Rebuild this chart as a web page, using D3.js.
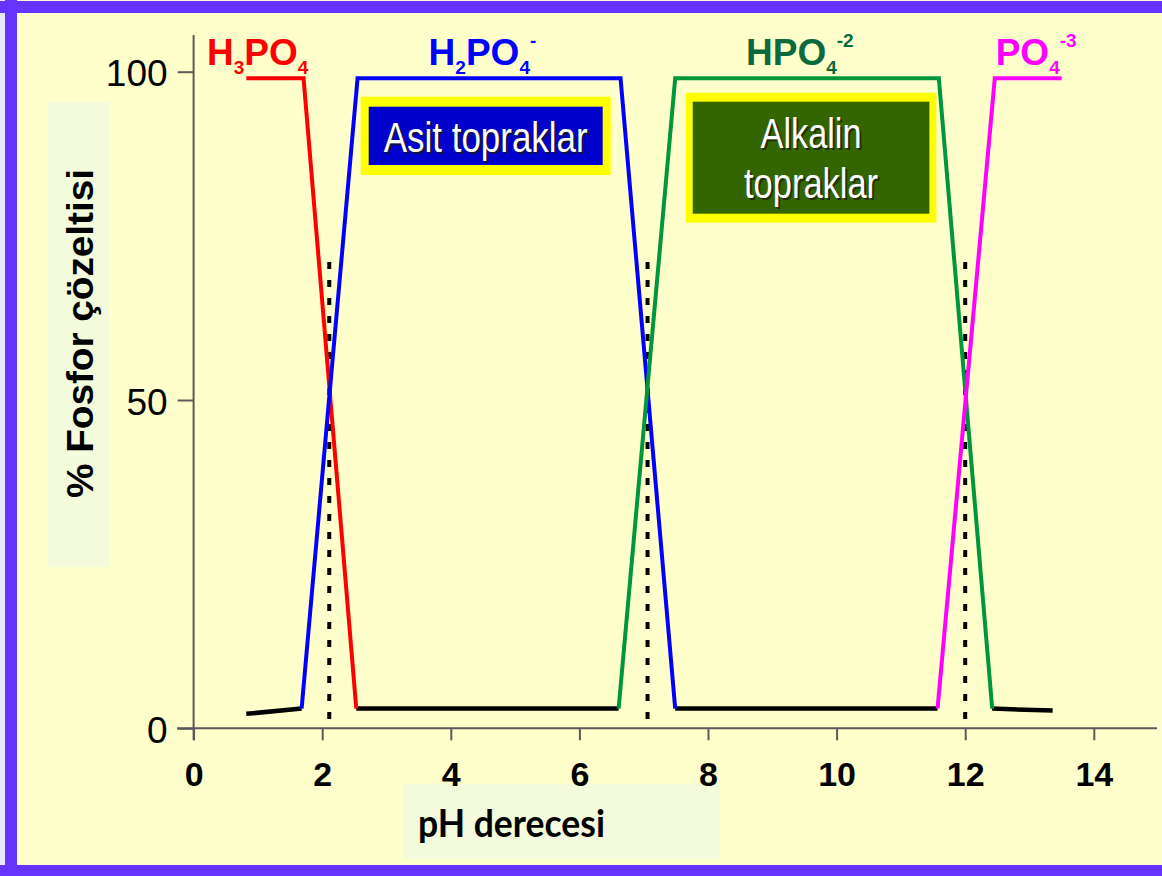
<!DOCTYPE html>
<html lang="tr">
  <head>
    <meta charset="UTF-8" />
    <title>Fosfor çözeltisi - pH</title>
    <script src="https://d3js.org/d3.v7.min.js"></script>
    <style>
      body {
        margin: 0;
        background-color: #ffffcc;
      }
      svg {
        display: block;
        font-family: "Liberation Sans", Arial, sans-serif;
      }
      .x-axis text {
        font-size: 34px;
        font-weight: bold;
        fill: #000;
      }
      .y-axis text {
        font-size: 37px;
        fill: #000;
      }
      .x-axis line,
      .y-axis line {
        stroke: #5a5a5a;
        stroke-width: 2px;
      }
      .species {
        font-size: 37px;
        font-weight: bold;
      }
      .box-text {
        font-size: 42px;
        fill: #fff;
      }
    </style>
  </head>
  <body>
    <svg id="chart" width="1162" height="876"></svg>

    <script>
      // pH ekseni ve yüzde ekseni
      const phTicks = [0, 2, 4, 6, 8, 10, 12, 14];
      const percentTicks = [0, 50, 100];

      // Türlerin dağılımı: [pH, %]
      const h3po4 = [[0.82, 99], [1.71, 99], [2.53, 3]];
      const h2po4 = [[1.68, 3], [2.55, 99], [6.64, 99], [7.49, 3]];
      const hpo4 = [[6.61, 3], [7.49, 99], [11.59, 99], [12.42, 3]];
      const po4 = [[11.57, 3], [12.46, 99], [13.5, 99]];

      // alt seviyedeki siyah çizgiler
      const lowSegments = [
        [[0.82, 2.2], [1.68, 3]],
        [[2.53, 3], [6.61, 3]],
        [[7.49, 3], [11.57, 3]],
        [[12.42, 3], [13.36, 2.7]],
      ];

      // pKa değerleri (noktalı çizgiler) ve üst uçları
      const pKa = [2.11, 7.06, 12.0];
      const pKaTop = 71;

      const svg = d3.select("#chart");
      const W = 1162,
        H = 876;

      // arka plan ve çerçeve
      svg.append("rect").attr("width", W).attr("height", H).attr("fill", "#ffffcc");
      svg.append("rect").attr("x", 0).attr("y", 0).attr("width", 5).attr("height", H).attr("fill", "#ebe6ff");
      svg.append("rect").attr("x", 5).attr("y", 0).attr("width", 12).attr("height", H).attr("fill", "#6633ff");
      svg.append("rect").attr("x", 0).attr("y", 1).attr("width", W).attr("height", 12).attr("fill", "#6633ff");
      svg.append("rect").attr("x", 0).attr("y", 865).attr("width", W).attr("height", 11).attr("fill", "#6633ff");

      const x = d3.scaleLinear().domain([0, 14]).range([193.6, 1093.8]);
      const y = d3.scaleLinear().domain([0, 100]).range([728.3, 71.7]);

      // eksen başlıkları için açık arka plan kutuları
      svg.append("rect").attr("x", 48).attr("y", 102).attr("width", 61).attr("height", 465).attr("fill", "#f4fadc");
      svg.append("rect").attr("x", 403).attr("y", 784).attr("width", 317).attr("height", 75).attr("fill", "#f4fadc");

      svg
        .append("text")
        .attr("transform", "translate(93,333.5) rotate(-90)")
        .attr("text-anchor", "middle")
        .attr("textLength", 329)
        .attr("lengthAdjust", "spacingAndGlyphs")
        .style("font-size", "37px")
        .style("font-weight", "bold")
        .text("% Fosfor çözeltisi");

      svg
        .append("text")
        .attr("x", 418)
        .attr("y", 836.7)
        .attr("textLength", 187)
        .attr("lengthAdjust", "spacingAndGlyphs")
        .style("font-family", "Lato, sans-serif")
        .style("font-size", "38px")
        .style("font-weight", "bold")
        .text("pH derecesi");

      // eksenler
      const xAxis = svg
        .append("g")
        .attr("class", "x-axis")
        .attr("transform", `translate(0,${y(0)})`)
        .call(d3.axisBottom(x).tickValues(phTicks).tickSize(12).tickSizeOuter(0).tickPadding(22));
      xAxis.select(".domain").remove();

      const yAxis = svg
        .append("g")
        .attr("class", "y-axis")
        .attr("transform", `translate(${x(0)},0)`)
        .call(d3.axisLeft(y).tickValues(percentTicks).tickSize(16).tickSizeOuter(0).tickPadding(10));
      yAxis.select(".domain").remove();
      yAxis.selectAll("text").attr("dy", "14px").attr("y", 0);

      svg
        .append("line")
        .attr("x1", 177)
        .attr("x2", 1157)
        .attr("y1", y(0))
        .attr("y2", y(0))
        .attr("stroke", "#5a5a5a")
        .attr("stroke-width", 2);
      svg
        .append("line")
        .attr("x1", x(0))
        .attr("x2", x(0))
        .attr("y1", 35)
        .attr("y2", y(0) + 12)
        .attr("stroke", "#5a5a5a")
        .attr("stroke-width", 2);

      // noktalı pKa çizgileri
      svg
        .selectAll(".pka")
        .data(pKa)
        .enter()
        .append("line")
        .attr("class", "pka")
        .attr("x1", (d) => x(d))
        .attr("x2", (d) => x(d))
        .attr("y1", y(pKaTop))
        .attr("y2", y(0))
        .attr("stroke", "#000")
        .attr("stroke-width", 4)
        .attr("stroke-dasharray", "7,11");

      const line = d3
        .line()
        .x((d) => x(d[0]))
        .y((d) => y(d[1]));

      svg
        .selectAll(".low")
        .data(lowSegments)
        .enter()
        .append("path")
        .attr("class", "low")
        .attr("d", line)
        .attr("fill", "none")
        .attr("stroke", "#000")
        .attr("stroke-width", 4.5);

      const series = [
        { data: h3po4, color: "#ff0000" },
        { data: h2po4, color: "#0000ff" },
        { data: hpo4, color: "#00963c" },
        { data: po4, color: "#ff00ff" },
      ];

      svg
        .selectAll(".species-line")
        .data(series)
        .enter()
        .append("path")
        .attr("class", "species-line")
        .attr("d", (d) => line(d.data))
        .attr("fill", "none")
        .attr("stroke", (d) => d.color)
        .attr("stroke-width", 4)
        .attr("stroke-linejoin", "miter");

      // tür etiketleri (alt ve üst simgelerle)
      const labels = [
        { x: 207, color: "#ff0000", parts: [["H", 0], ["3", 1], ["PO", 0], ["4", 1]] },
        { x: 428.6, color: "#0000ff", parts: [["H", 0], ["2", 1], ["PO", 0], ["4", 1], ["-", 2]] },
        { x: 746, color: "#0b6b3a", parts: [["HPO", 0], ["4", 1], ["-2", 2]] },
        { x: 995.7, color: "#ff00ff", parts: [["PO", 0], ["4", 1], ["-3", 2]] },
      ];

      labels.forEach((lab) => {
        const t = svg
          .append("text")
          .attr("class", "species")
          .attr("x", lab.x)
          .attr("y", 65)
          .attr("fill", lab.color);
        let shift = 0;
        lab.parts.forEach(([txt, kind]) => {
          const target = kind === 1 ? 9 : kind === 2 ? -18 : 0;
          t.append("tspan")
            .attr("dy", target - shift)
            .style("font-size", kind === 0 ? "37px" : "19px")
            .text(txt);
          shift = target;
        });
      });

      // toprak kutuları
      const boxes = [
        { x0: 360.7, y0: 96.7, x1: 610.7, y1: 175, pad: [8, 10], fill: "#0000cc", lines: [["Asit topraklar", 151.7, 204]] },
        {
          x0: 685.7,
          y0: 92.7,
          x1: 936.4,
          y1: 222.7,
          pad: [7, 9],
          fill: "#336600",
          lines: [["Alkalin", 148.3, 101], ["topraklar", 198.3, 134]],
        },
      ];

      boxes.forEach((b) => {
        svg
          .append("rect")
          .attr("x", b.x0)
          .attr("y", b.y0)
          .attr("width", b.x1 - b.x0)
          .attr("height", b.y1 - b.y0)
          .attr("fill", "#ffff00");
        svg
          .append("rect")
          .attr("x", b.x0 + b.pad[0])
          .attr("y", b.y0 + b.pad[1])
          .attr("width", b.x1 - b.x0 - 2 * b.pad[0])
          .attr("height", b.y1 - b.y0 - 2 * b.pad[1])
          .attr("fill", b.fill);
        const cx = (b.x0 + b.x1) / 2;
        b.lines.forEach(([txt, by, len]) => {
          svg
            .append("text")
            .attr("class", "box-text")
            .attr("x", cx + 2)
            .attr("y", by + 2)
            .attr("text-anchor", "middle")
            .attr("textLength", len)
            .attr("lengthAdjust", "spacingAndGlyphs")
            .style("fill", "#1a1a00")
            .style("opacity", 0.7)
            .text(txt);
          svg
            .append("text")
            .attr("class", "box-text")
            .attr("x", cx)
            .attr("y", by)
            .attr("text-anchor", "middle")
            .attr("textLength", len)
            .attr("lengthAdjust", "spacingAndGlyphs")
            .text(txt);
        });
      });
    </script>
  </body>
</html>
